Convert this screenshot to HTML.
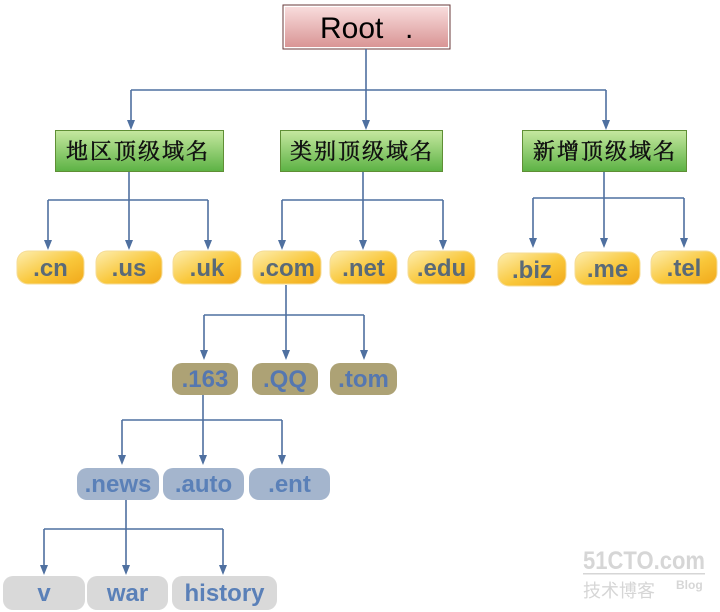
<!DOCTYPE html>
<html><head><meta charset="utf-8"><style>
html,body{margin:0;padding:0;background:#fff;}
svg{display:block;}
.p{font-family:"Liberation Sans",Arial,sans-serif;font-weight:bold;font-size:24px;text-anchor:middle;}
.cjk{font-family:"Liberation Serif","Noto Serif CJK SC","Noto Sans CJK SC",serif;font-size:22px;text-anchor:middle;letter-spacing:2px;fill:#111;stroke:#111;stroke-width:0.5;}
</style></head><body>
<svg width="720" height="612" viewBox="0 0 720 612" xmlns="http://www.w3.org/2000/svg">
<defs>
<linearGradient id="gRoot" x1="0" y1="0" x2="0" y2="1"><stop offset="0" stop-color="#f8dcdc"/><stop offset="1" stop-color="#d99595"/></linearGradient>
<linearGradient id="gGreen" x1="0" y1="0" x2="0" y2="1"><stop offset="0" stop-color="#c6e8a0"/><stop offset="1" stop-color="#5cb244"/></linearGradient>
<linearGradient id="gOr" x1="0" y1="0" x2="1" y2="1"><stop offset="0" stop-color="#fdeeb0"/><stop offset="0.55" stop-color="#f9c73a"/><stop offset="1" stop-color="#f1a81a"/></linearGradient>
</defs>

<!-- Root -->
<rect x="282.5" y="4.5" width="168" height="45" fill="#6a3a3a"/>
<rect x="283.5" y="5.5" width="166" height="43" fill="#fff"/>
<rect x="285" y="7" width="163" height="40" fill="url(#gRoot)"/>
<text x="320" y="38" font-family="Liberation Sans,Arial,sans-serif" font-size="30" fill="#000">Root</text>
<text x="405" y="38" font-family="Liberation Sans,Arial,sans-serif" font-size="30" fill="#000">.</text>

<g stroke="#4f70a0" stroke-width="1.6" fill="none">
<path d="M366 49 V122 M131 90 H606 M131 90 V122 M606 90 V122"/>
<path d="M129 172 V242 M48 200 H208 M48 200 V242 M208 200 V242"/>
<path d="M363 172 V242 M282 200 H443 M282 200 V242 M443 200 V242"/>
<path d="M604 172 V240 M533 198 H684 M533 198 V240 M684 198 V240"/>
<path d="M286 285 V352 M204 315 H364 M204 315 V352 M364 315 V352"/>
<path d="M203 395 V457 M122 420 H282 M122 420 V457 M282 420 V457"/>
<path d="M126 500 V567 M44 529 H223 M44 529 V567 M223 529 V567"/>
</g>
<g fill="#4f70a0">
<polygon points="127,120 135,120 131,130"/><polygon points="362,120 370,120 366,130"/><polygon points="602,120 610,120 606,130"/>
<polygon points="44,240 52,240 48,250"/><polygon points="125,240 133,240 129,250"/><polygon points="204,240 212,240 208,250"/>
<polygon points="278,240 286,240 282,250"/><polygon points="359,240 367,240 363,250"/><polygon points="439,240 447,240 443,250"/>
<polygon points="529,238 537,238 533,248"/><polygon points="600,238 608,238 604,248"/><polygon points="680,238 688,238 684,248"/>
<polygon points="200,350 208,350 204,360"/><polygon points="282,350 290,350 286,360"/><polygon points="360,350 368,350 364,360"/>
<polygon points="118,455 126,455 122,465"/><polygon points="199,455 207,455 203,465"/><polygon points="278,455 286,455 282,465"/>
<polygon points="40,565 48,565 44,575"/><polygon points="122,565 130,565 126,575"/><polygon points="219,565 227,565 223,575"/>
</g>

<!-- green boxes -->
<rect x="55.5" y="130.5" width="168" height="41" fill="url(#gGreen)" stroke="#5f8f35"/>
<rect x="280.5" y="130.5" width="162" height="41" fill="url(#gGreen)" stroke="#5f8f35"/>
<rect x="522.5" y="130.5" width="164" height="41" fill="url(#gGreen)" stroke="#5f8f35"/>
<text class="cjk" x="138" y="159">地区顶级域名</text>
<text class="cjk" x="362" y="159">类别顶级域名</text>
<text class="cjk" x="605" y="159">新增顶级域名</text>

<!-- orange pills -->
<g fill="url(#gOr)" stroke="#f6dc96" stroke-width="1">
<rect x="17" y="251" width="67" height="33" rx="11"/>
<rect x="96" y="251" width="66" height="33" rx="11"/>
<rect x="173" y="251" width="68" height="33" rx="11"/>
<rect x="253" y="251" width="68" height="33" rx="11"/>
<rect x="330" y="251" width="67" height="33" rx="11"/>
<rect x="408" y="251" width="67" height="33" rx="11"/>
<rect x="498" y="253" width="68" height="33" rx="11"/>
<rect x="575" y="252" width="65" height="33" rx="11"/>
<rect x="651" y="251" width="66" height="33" rx="11"/>
</g>
<g class="p" fill="#5a6a78">
<text x="50.5" y="276">.cn</text>
<text x="129" y="276">.us</text>
<text x="207" y="276">.uk</text>
<text x="287" y="276">.com</text>
<text x="363.5" y="276">.net</text>
<text x="441.5" y="276">.edu</text>
<text x="532" y="278">.biz</text>
<text x="607.5" y="277">.me</text>
<text x="684" y="276">.tel</text>
</g>

<!-- olive pills -->
<g fill="#ada275">
<rect x="172" y="363" width="66" height="32" rx="10"/>
<rect x="252" y="363" width="66" height="32" rx="10"/>
<rect x="330" y="363" width="67" height="32" rx="10"/>
</g>
<g class="p" fill="#5577b0">
<text x="205" y="387">.163</text>
<text x="285" y="387">.QQ</text>
<text x="363.5" y="387">.tom</text>
</g>

<!-- blue-grey pills -->
<g fill="#a4b5cd">
<rect x="77" y="468" width="82" height="32" rx="10"/>
<rect x="163" y="468" width="81" height="32" rx="10"/>
<rect x="249" y="468" width="81" height="32" rx="10"/>
</g>
<g class="p" fill="#5a80b8">
<text x="118" y="492">.news</text>
<text x="203.5" y="492">.auto</text>
<text x="289.5" y="492">.ent</text>
</g>

<!-- grey pills -->
<g fill="#d9d9d9">
<rect x="3" y="576" width="82" height="34" rx="10"/>
<rect x="87" y="576" width="81" height="34" rx="10"/>
<rect x="172" y="576" width="105" height="34" rx="10"/>
</g>
<g class="p" fill="#5a80b8">
<text x="44" y="601">v</text>
<text x="127.5" y="601">war</text>
<text x="224.5" y="601">history</text>
</g>

<!-- watermark -->
<text x="583" y="569" font-family="Liberation Sans,Arial,sans-serif" font-weight="bold" font-size="25" fill="#d6d6d6" textLength="122" lengthAdjust="spacingAndGlyphs">51CTO.com</text>
<rect x="583" y="573" width="122" height="1.5" fill="#d6d6d6"/>
<text x="583" y="597" font-family="Liberation Sans,'Noto Sans CJK SC',sans-serif" font-size="18" fill="#d6d6d6">技术博客</text>
<text x="676" y="589" font-family="Liberation Sans,Arial,sans-serif" font-weight="bold" font-size="12" fill="#d6d6d6">Blog</text>
</svg>
</body></html>
